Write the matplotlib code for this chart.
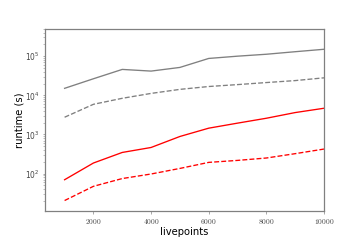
import matplotlib
matplotlib.use("Agg")
import matplotlib.pyplot as plt
from matplotlib.ticker import FuncFormatter

plt.rcParams['mathtext.fontset'] = 'cm'

# data
livepoints = [1000, 2000, 3000, 4000, 5000, 6000, 7000, 8000, 9000, 10000]
gray_solid = [15100, 26500, 45900, 41600, 51600, 87500, 100000, 112000, 130000, 150000]
gray_dashed = [2760, 5900, 8400, 11200, 14200, 16800, 18800, 21200, 23800, 28000]
red_solid = [70, 187, 348, 466, 890, 1450, 1950, 2600, 3630, 4680]
red_dashed = [20.6, 47.5, 75, 98, 136, 194, 218, 251, 324, 425]

fig, ax = plt.subplots(figsize=(6, 4), dpi=60)

ax.plot(livepoints, gray_solid, color='gray', lw=1.6)
ax.plot(livepoints, gray_dashed, color='gray', lw=1.6, ls='--')
ax.plot(livepoints, red_solid, color='red', lw=1.6)
ax.plot(livepoints, red_dashed, color='red', lw=1.6, ls='--')

ax.set_yscale('log')
ax.set_xlim(320, 10000)
ax.set_ylim(11, 5e5)
ax.set_xticks([2000, 4000, 6000, 8000, 10000])
ax.xaxis.set_major_formatter(FuncFormatter(lambda v, p: r'$%d$' % v))

for s in ax.spines.values():
    s.set_color('gray')
    s.set_linewidth(1.5)
ax.tick_params(colors='gray', labelcolor='#444444', labelsize=9, length=3)
ax.tick_params(which='minor', colors='gray', length=2)

ax.set_xlabel('livepoints', fontsize=12, labelpad=2)
ax.set_ylabel('runtime (s)', fontsize=12, labelpad=1)

fig.subplots_adjust(left=0.125, right=0.9, bottom=0.12, top=0.88)
fig.savefig('out.png', dpi=60)
